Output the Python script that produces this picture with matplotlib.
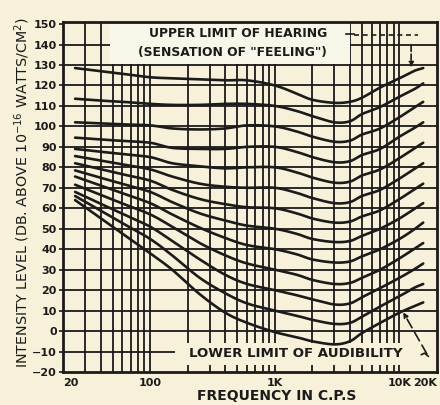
import numpy as np
import matplotlib
matplotlib.use("Agg")
import matplotlib.pyplot as plt
from matplotlib.patches import Rectangle

# ---------------- data ----------------
FREQ = [25, 40, 60, 100, 150, 250, 400, 600, 1000, 1500, 2000, 3000, 4000, 5000, 7000, 10000, 13000, 15500]
LEVELS = [0, 10, 20, 30, 40, 50, 60, 70, 80, 90, 100, 110, 120]

PHON_0   = [64, 55.2, 47.6, 38, 30, 18, 9, 4, -0.5, -3, -5, -6.5, -5, -1, 4, 9, 12, 14]
PHON_10  = [66, 58.9, 52.7, 45, 37, 26, 18.5, 13.5, 10, 7.5, 5.5, 3.5, 4, 7, 12, 17, 21, 23]
PHON_20  = [68, 62.2, 57.3, 51, 44, 35, 27.5, 23, 20, 17.5, 15.5, 13, 13.5, 16.5, 21, 26, 30, 33]
PHON_30  = [71.5, 66.6, 62.3, 57, 51, 43, 37, 33, 30, 27.5, 25, 23, 23.5, 26, 30, 35.5, 40, 43]
PHON_40  = [75.5, 71.1, 67.3, 62.5, 57, 50.5, 45.5, 42, 40, 37.5, 35, 33.5, 34, 36.5, 40, 45, 49.5, 53]
PHON_50  = [78.5, 74.9, 71.9, 68, 63, 57.5, 54, 51.5, 50, 47.5, 45, 43.5, 44, 46.5, 50, 55, 59.5, 62.5]
PHON_60  = [82, 79.1, 76.6, 73.5, 69, 64.5, 62, 60.5, 60, 57.5, 55, 53, 53.5, 56, 59, 64.5, 69, 72]
PHON_70  = [85.5, 83.3, 81.4, 79, 75.5, 72, 70.5, 70, 70, 67.5, 65, 62.5, 63, 66, 69, 74.5, 79, 82]
PHON_80  = [89, 87.6, 86.5, 85, 82, 80.5, 79.5, 80, 80, 77.5, 75, 72.5, 73, 76, 79, 84.5, 89, 92]
PHON_90  = [94.5, 93.6, 92.9, 92, 89.5, 89, 89, 90, 90, 87.5, 85, 82.5, 83, 86, 89, 95, 99, 102]
PHON_100 = [102, 101.5, 101, 100.5, 99, 98.5, 99, 100.5, 100, 97.5, 95, 92.5, 93, 96, 99, 104.5, 109, 112]
PHON_110 = [113.5, 112.6, 112, 111, 110.5, 110.5, 111, 111, 110, 107.5, 105, 102, 102.5, 106, 109.5, 114.5, 118, 121]
PHON_120 = [128.5, 127, 125.7, 124, 123.5, 123, 122.5, 122.5, 120, 116, 113, 111.5, 112, 114, 119, 123.5, 127, 128.5]

CURVES = [PHON_0, PHON_10, PHON_20, PHON_30, PHON_40, PHON_50, PHON_60,
          PHON_70, PHON_80, PHON_90, PHON_100, PHON_110, PHON_120]

Y_TICKS = [150, 140, 130, 120, 110, 100, 90, 80, 70, 60, 50, 40, 30, 20, 10, 0, -10, -20]
Y_TICK_LABELS = ["150", "140", "130", "120", "110", "100", "90", "80", "70", "60",
                 "50", "40", "30", "20", "10", "0", "\u221210", "\u221220"]
X_TICKS = [20, 100, 1000, 10000, 20000]
X_TICK_LABELS = ["20", "100", "1K", "10K", "20K"]

BG = "#f6f1d8"
INK = "#1b1b1b"


def smooth(xs, ys, n=12):
    """Catmull-Rom through the read points (in log-frequency space), for drawing only."""
    lx = np.log10(np.asarray(xs, float))
    y = np.asarray(ys, float)
    P = np.column_stack([lx, y])
    P = np.vstack([2 * P[0] - P[1], P, 2 * P[-1] - P[-2]])
    out = []
    for i in range(1, len(P) - 2):
        p0, p1, p2, p3 = P[i - 1], P[i], P[i + 1], P[i + 2]
        for t in np.linspace(0, 1, n, endpoint=False):
            t2, t3 = t * t, t * t * t
            pt = 0.5 * ((2 * p1) + (-p0 + p2) * t + (2 * p0 - 5 * p1 + 4 * p2 - p3) * t2
                        + (-p0 + 3 * p1 - 3 * p2 + p3) * t3)
            out.append(pt)
    out.append(P[-2])
    out = np.array(out)
    return 10 ** out[:, 0], out[:, 1]


fig = plt.figure(figsize=(4.4, 4.05), dpi=100, facecolor=BG)
ax = fig.add_axes([63 / 440, 1 - 372 / 405, (437 - 63) / 440, (372 - 22) / 405])
ax.set_facecolor(BG)
ax.set_xscale("log")
ax.set_xlim(20, 20000)
ax.set_ylim(-20, 151)

# grid
grid_f = [m * d for d in (10, 100, 1000) for m in range(2, 10)] + [100, 1000, 10000]
for f in grid_f:
    if 20 < f < 20000:
        ax.axvline(f, color=INK, lw=1.3, zorder=1)
for lv in range(-10, 150, 10):
    ax.axhline(lv, color=INK, lw=1.3, zorder=1)

# upper label box (covers grid)
ax.add_patch(Rectangle((47.6, 130.5), 4000 - 47.6, 30, facecolor="#f8f6e8",
                       edgecolor="none", zorder=2))
ax.text(505, 145.6, "UPPER LIMIT OF HEARING", ha="center", va="center",
        fontsize=8.9, fontweight="bold", color=INK, zorder=3)
ax.text(455, 136.3, "(SENSATION OF \"FEELING\")", ha="center", va="center",
        fontsize=8.9, fontweight="bold", color=INK, zorder=3)
ax.plot([3750, 4350], [145.0, 145.0], color=INK, lw=1.2, zorder=3)
ax.plot([4350, 14000], [144.7, 144.7], color=INK, lw=1.2, ls=(0, (3, 2.2)), zorder=3)
ax.annotate("", xy=(12400, 127.5), xytext=(12400, 141),
            arrowprops=dict(arrowstyle="-|>", color=INK, lw=1.2, ls="--",
                            mutation_scale=7), zorder=3)

# lower label box
ax.add_patch(Rectangle((158, -16.5), 20000 - 158, 10.7, facecolor=BG,
                       edgecolor="none", zorder=2))
ax.text(205, -11.0, "LOWER LIMIT OF AUDIBILITY", ha="left", va="center",
        fontsize=9.6, fontweight="bold", color=INK, zorder=3)
ax.plot([15000, 15900, 17000], [-11.5, -10.8, -12.3], color=INK, lw=1.2, zorder=3)
ax.annotate("", xy=(10460, 10.3), xytext=(17000, -12.3),
            arrowprops=dict(arrowstyle="-|>", color=INK, lw=1.2, ls=(0, (6, 3)),
                            mutation_scale=7), zorder=3)

# curves
for ys in CURVES:
    xs_s, ys_s = smooth(FREQ, ys)
    ax.plot(xs_s, ys_s, color=INK, lw=1.9, solid_capstyle="round", zorder=4)

# axes styling
for s in ax.spines.values():
    s.set_color(INK)
    s.set_linewidth(2.0)
ax.set_yticks(Y_TICKS)
ax.set_yticklabels(Y_TICK_LABELS, fontsize=8, fontweight="bold", color=INK)
ax.set_xticks(X_TICKS)
ax.set_xticklabels(X_TICK_LABELS, fontsize=8, fontweight="bold", color=INK)
xl = ax.get_xticklabels()
xl[0].set_ha("left")
xl[-1].set_ha("right")
ax.xaxis.set_minor_locator(matplotlib.ticker.NullLocator())
ax.tick_params(axis="y", length=3, width=1.2, color=INK, pad=1.5)
ax.tick_params(axis="x", length=0, pad=4)

fig.text(277 / 440, 1 - 396 / 405, "FREQUENCY IN C.P.S", ha="center", va="center",
         fontsize=10, fontweight="bold", color=INK)
fig.text(22 / 440, 1 - 193 / 405,
         "INTENSITY LEVEL (DB. ABOVE 10$^{-16}$ WATTS/CM$^{2}$)",
         rotation=90, ha="center", va="center", fontsize=10.3, color=INK)

fig.savefig("out.png", dpi=100, facecolor=BG)
